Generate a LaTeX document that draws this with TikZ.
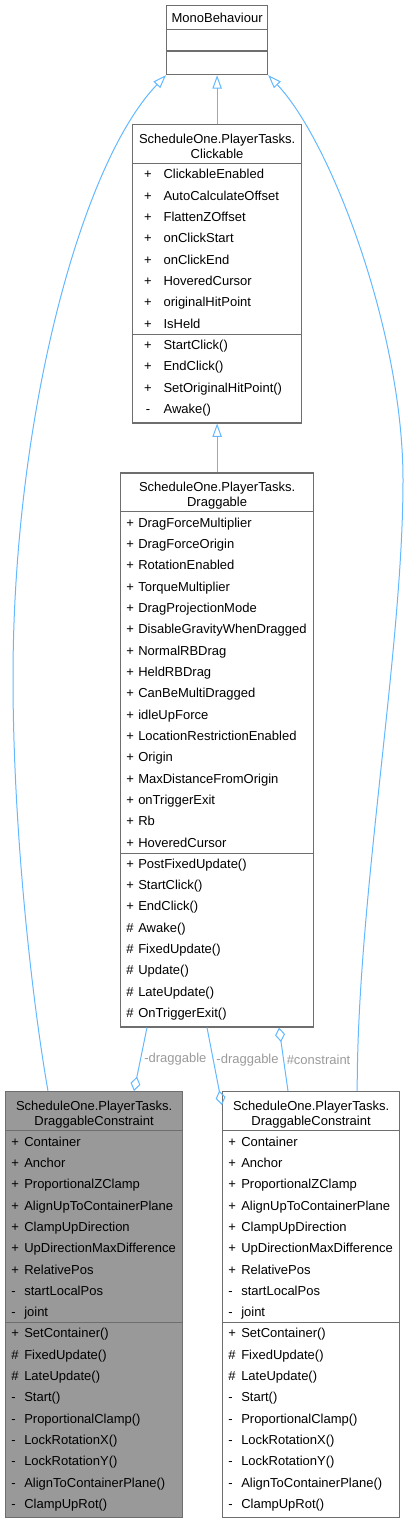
\documentclass[tikz,border=0pt]{standalone}
\usepackage{fontspec}
\setmainfont{Liberation Sans}
\usetikzlibrary{arrows.meta,positioning,calc}
\definecolor{edgeblue}{RGB}{99,184,255}
\definecolor{boxline}{RGB}{110,110,110}
\definecolor{focusgray}{RGB}{153,153,153}
\definecolor{labelgray}{RGB}{154,154,154}

\tikzset{
  classbox/.style={draw=boxline, line width=0.9pt, fill=white, anchor=north west, inner sep=0pt},
  boxsize/.style 2 args={minimum width=#1*0.75pt, minimum height=#2*0.75pt},
  sepline/.style={draw=boxline, line width=0.9pt},
  member/.style={inner sep=0pt, anchor=west, text height=7pt, text depth=0pt, font=\fontsize{9.75}{11.25}\selectfont},
  heading/.style={inner sep=0pt, align=center, anchor=north, font=\fontsize{9.75}{11.25}\selectfont},
  inherit/.style={draw=edgeblue, line width=0.75pt, -{Triangle[open, length=10pt, width=7pt]}},
  aggr/.style={draw=edgeblue, line width=0.75pt, -{Diamond[open, length=11pt, width=7.5pt]}},
  rolelabel/.style={text=labelgray, inner sep=2.5pt, anchor=west, font=\fontsize{9.75}{11.25}\selectfont}
}

\begin{document}
\begin{tikzpicture}[x=0.75pt, y=-0.75pt]
    \useasboundingbox (0,0) rectangle (410,1523);

    % Class boxes
    \node[classbox, boxsize={101}{69}] (mono) at (166,5) {};
    \node[classbox, boxsize={169}{298.3}] (click) at (132,124) {};
    \node[classbox, boxsize={193}{554}] (drag) at (120,472.3) {};
    \node[classbox, boxsize={177}{426}, fill=focusgray] (ldc) at (5,1091) {};
    \node[classbox, boxsize={177}{426}] (rdc) at (222,1091) {};

    % Compartment lines
    \draw[sepline] ($(mono.north west)+(0,24.3)$) -- ($(mono.north east)+(0,24.3)$);
    \draw[sepline] ($(mono.north west)+(0,46)$) -- ($(mono.north east)+(0,46)$);
    \draw[sepline] ($(click.north west)+(0,39.3)$) -- ($(click.north east)+(0,39.3)$);
    \draw[sepline] ($(click.north west)+(0,210.3)$) -- ($(click.north east)+(0,210.3)$);
    \draw[sepline] ($(drag.north west)+(0,39.4)$) -- ($(drag.north east)+(0,39.4)$);
    \draw[sepline] ($(drag.north west)+(0,381)$) -- ($(drag.north east)+(0,381)$);
    \foreach \b in {ldc,rdc} {
        \draw[sepline] ($(\b.north west)+(0,39.3)$) -- ($(\b.north east)+(0,39.3)$);
        \draw[sepline] ($(\b.north west)+(0,231.6)$) -- ($(\b.north east)+(0,231.6)$);
    }

    % Titles
    \node[member, anchor=center] (mono-t) at ($(mono.north)+(0,13)$) {MonoBehaviour};
    \node[heading] (click-t) at ($(click.north)+(0,10)$) {ScheduleOne.PlayerTasks.\\Clickable};
    \node[heading] (drag-t) at ($(drag.north)+(0,10)$) {ScheduleOne.PlayerTasks.\\Draggable};
    \node[heading] (ldc-t) at ($(ldc.north)+(0,10)$) {ScheduleOne.PlayerTasks.\\DraggableConstraint};
    \node[heading] (rdc-t) at ($(rdc.north)+(0,10)$) {ScheduleOne.PlayerTasks.\\DraggableConstraint};

    % Clickable members
    \foreach \v/\m [count=\i from 0] in {+/ClickableEnabled, +/AutoCalculateOffset, +/FlattenZOffset,
        +/onClickStart, +/onClickEnd, +/HoveredCursor, +/originalHitPoint, +/IsHeld} {
        \node[member, anchor=center] (click-av\i) at ($(click.north west)+(16,50.3+21.33*\i)$) {\v};
        \node[member] (click-a\i) at ($(click.north west)+(31.3,50.3+21.33*\i)$) {\m};
    }
    \foreach \v/\m [count=\i from 0] in {+/StartClick(), +/EndClick(), +/SetOriginalHitPoint(), -/Awake()} {
        \node[member, anchor=center] (click-mv\i) at ($(click.north west)+(16,221+21.33*\i)$) {\v};
        \node[member] (click-m\i) at ($(click.north west)+(31.3,221+21.33*\i)$) {\m};
    }

    % Draggable members
    \foreach \v/\m [count=\i from 0] in {+/DragForceMultiplier, +/DragForceOrigin, +/RotationEnabled,
        +/TorqueMultiplier, +/DragProjectionMode, +/DisableGravityWhenDragged, +/NormalRBDrag,
        +/HeldRBDrag, +/CanBeMultiDragged, +/idleUpForce, +/LocationRestrictionEnabled, +/Origin,
        +/MaxDistanceFromOrigin, +/onTriggerExit, +/Rb, +/HoveredCursor} {
        \node[member] (drag-av\i) at ($(drag.north west)+(6,50.3+21.33*\i)$) {\v};
        \node[member] (drag-a\i) at ($(drag.north west)+(18,50.3+21.33*\i)$) {\m};
    }
    \foreach \v/\m [count=\i from 0] in {+/PostFixedUpdate(), +/StartClick(), +/EndClick(), \#/Awake(),
        \#/FixedUpdate(), \#/Update(), \#/LateUpdate(), \#/OnTriggerExit()} {
        \node[member] (drag-mv\i) at ($(drag.north west)+(6,391.3+21.33*\i)$) {\v};
        \node[member] (drag-m\i) at ($(drag.north west)+(18,391.3+21.33*\i)$) {\m};
    }

    % DraggableConstraint members (both copies)
    \foreach \b in {ldc,rdc} {
        \foreach \v/\m [count=\i from 0] in {+/Container, +/Anchor, +/ProportionalZClamp,
            +/AlignUpToContainerPlane, +/ClampUpDirection, +/UpDirectionMaxDifference,
            +/RelativePos, -/startLocalPos, -/joint} {
            \node[member] (\b-av\i) at ($(\b.north west)+(6,50.5+21.33*\i)$) {\v};
            \node[member] (\b-a\i) at ($(\b.north west)+(19,50.5+21.33*\i)$) {\m};
        }
        \foreach \v/\m [count=\i from 0] in {+/SetContainer(), \#/FixedUpdate(), \#/LateUpdate(),
            -/Start(), -/ProportionalClamp(), -/LockRotationX(), -/LockRotationY(),
            -/AlignToContainerPlane(), -/ClampUpRot()} {
            \node[member] (\b-mv\i) at ($(\b.north west)+(6,242.3+21.33*\i)$) {\v};
            \node[member] (\b-m\i) at ($(\b.north west)+(19,242.3+21.33*\i)$) {\m};
        }
    }

    % Inheritance
    \draw[inherit] (click.north) -- (mono.south);
    \draw[inherit] (drag.north) -- (click.south);
    \draw[inherit] ($(ldc.north west)+(43,0)$) .. controls (32,1000) and (13,830) .. (13,678)
        .. controls (13,420) and (80,165) .. (mono.south west);
    \draw[inherit] ($(rdc.north east)+(-43,0)$) .. controls (357,900) and (403,650) .. (403,480)
        .. controls (403,330) and (330,140) .. (mono.south east);

    % Associations
    \draw[aggr] ($(drag.south west)+(27,0)$) -- node[rolelabel, pos=0.5] (lbl-a) {-draggable}
        ($(ldc.north west)+(129,0)$);
    \draw[aggr] ($(drag.south west)+(87,0)$) -- node[rolelabel, pos=0.42, inner sep=2pt] (lbl-b) {-draggable}
        ($(rdc.north west)+(0,14)$);
    \draw[aggr] ($(rdc.north west)+(66,0)$) -- node[rolelabel, pos=0.49, inner sep=2pt] (lbl-c) {\#constraint}
        ($(drag.south west)+(159,0)$);
\end{tikzpicture}
\end{document}
